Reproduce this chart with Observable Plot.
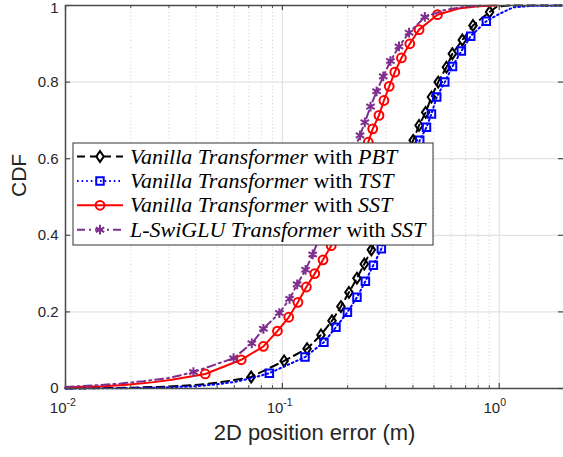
<!DOCTYPE html>
<html><head><meta charset="utf-8">
<script src="https://cdn.jsdelivr.net/npm/d3@7"></script>
<script src="https://cdn.jsdelivr.net/npm/@observablehq/plot@0.6"></script>
<style>body{margin:0;background:#fff} svg{display:block}</style>
</head><body><div id="chart"></div>
<script>
// ---------- data ----------
const xMajorTicks = [0.01, 0.1, 1];
const xMinorTicks = [0.02,0.03,0.04,0.05,0.06,0.07,0.08,0.09,0.2,0.3,0.4,0.5,0.6,0.7,0.8,0.9,2];
const yTicks = [0, 0.2, 0.4, 0.6, 0.8, 1];
const yGrid = [0.2, 0.4, 0.6, 0.8];

const seriesNames = ["Vanilla Transformer with PBT", "Vanilla Transformer with TST", "Vanilla Transformer with SST", "L-SwiGLU Transformer with SST"];

// black: Vanilla Transformer with PBT
const pbtLowX = [0.01, 0.02, 0.03, 0.04, 0.05, 0.06];
const pbtLowY = [0.0, 0.002, 0.005, 0.009, 0.015, 0.022];
const pbtMarkX = [0.0718, 0.1019, 0.130, 0.1507, 0.1694, 0.1862, 0.2028, 0.2208, 0.2387, 0.2573, 0.401, 0.427, 0.458, 0.487, 0.523, 0.571, 0.608, 0.676, 0.757, 0.903];
const pbtMarkY = [0.030, 0.072, 0.104, 0.140, 0.177, 0.214, 0.251, 0.288, 0.325, 0.362, 0.648, 0.687, 0.721, 0.761, 0.800, 0.839, 0.874, 0.910, 0.948, 0.983];
const pbtHighX = [0.97, 1.1, 2];
const pbtHighY = [0.996, 1.0, 1.0];

// blue: Vanilla Transformer with TST
const tstLowX = [0.01, 0.02, 0.03, 0.04, 0.05, 0.06, 0.07];
const tstLowY = [0.0, 0.001, 0.003, 0.006, 0.011, 0.017, 0.025];
const tstMarkX = [0.0871, 0.1272, 0.1555, 0.1767, 0.1995, 0.2208, 0.2415, 0.2628, 0.2860, 0.430, 0.462, 0.487, 0.515, 0.561, 0.609, 0.669, 0.739, 0.872];
const tstMarkY = [0.040, 0.082, 0.121, 0.160, 0.199, 0.238, 0.280, 0.322, 0.365, 0.648, 0.682, 0.717, 0.761, 0.800, 0.841, 0.881, 0.920, 0.959];
const tstHighX = [1.0, 1.16, 1.4, 2];
const tstHighY = [0.978, 0.995, 0.999, 1.0];

// red: Vanilla Transformer with SST
const sstLowX = [0.01, 0.015, 0.0192, 0.025, 0.0304];
const sstLowY = [0.003, 0.006, 0.010, 0.016, 0.022];
const sstMarkX = [0.0441, 0.0646, 0.0818, 0.0949, 0.107, 0.118, 0.129, 0.141, 0.154, 0.168, 0.249, 0.261, 0.279, 0.294, 0.311, 0.330, 0.354, 0.387, 0.427, 0.519];
const sstMarkY = [0.038, 0.075, 0.110, 0.150, 0.186, 0.225, 0.265, 0.300, 0.336, 0.373, 0.643, 0.678, 0.713, 0.752, 0.789, 0.826, 0.863, 0.900, 0.937, 0.976];
const sstHighX = [0.65, 0.8, 0.97];
const sstHighY = [0.992, 0.998, 1.0];

// purple: L-SwiGLU Transformer with SST
const lsgLowX = [0.01, 0.0135, 0.018, 0.0229, 0.0304];
const lsgLowY = [0.004, 0.008, 0.013, 0.019, 0.028];
const lsgMarkX = [0.0389, 0.0596, 0.0723, 0.0818, 0.0969, 0.108, 0.117, 0.128, 0.138, 0.228, 0.240, 0.255, 0.272, 0.292, 0.315, 0.345, 0.384, 0.454];
const lsgMarkY = [0.043, 0.079, 0.118, 0.156, 0.197, 0.234, 0.272, 0.310, 0.350, 0.661, 0.695, 0.736, 0.776, 0.815, 0.855, 0.893, 0.929, 0.970];
const lsgHighX = [0.56, 0.7, 0.85];
const lsgHighY = [0.988, 0.997, 1.0];

// ---------- build tables ----------
const pts = (xs, ys) => xs.map((x, i) => ({x, y: ys[i]}));
const lineOf = (lx, ly, mx, my, hx, hy) => [...pts(lx, ly), ...pts(mx, my), ...pts(hx, hy)];

const tallDiamond = {draw(ctx, size) { const r = Math.sqrt(size / Math.PI); const w = 0.8 * r, h = 1.15 * r;
  ctx.moveTo(0, -h); ctx.lineTo(w, 0); ctx.lineTo(0, h); ctx.lineTo(-w, 0); ctx.closePath(); }};
const squareSym = {draw(ctx, size) { const r = Math.sqrt(size / Math.PI); const s = 0.85 * r; ctx.rect(-s, -s, 2 * s, 2 * s); }};

const styles = [
  {color: "#000000", dash: "8,5", symbol: tallDiamond, r: 4.7, line: lineOf(pbtLowX, pbtLowY, pbtMarkX, pbtMarkY, pbtHighX, pbtHighY), marks: pts(pbtMarkX, pbtMarkY)},
  {color: "#0000ff", dash: "1.6,3", symbol: squareSym, r: 4.4, line: lineOf(tstLowX, tstLowY, tstMarkX, tstMarkY, tstHighX, tstHighY), marks: pts(tstMarkX, tstMarkY)},
  {color: "#ff0000", dash: null, symbol: "circle", r: 4.4, line: lineOf(sstLowX, sstLowY, sstMarkX, sstMarkY, sstHighX, sstHighY), marks: pts(sstMarkX, sstMarkY)},
  {color: "#7e2f8e", dash: "8,4,2,4", symbol: "asterisk", r: 4.6, line: lineOf(lsgLowX, lsgLowY, lsgMarkX, lsgMarkY, lsgHighX, lsgHighY), marks: pts(lsgMarkX, lsgMarkY)}
];

const W = 563, H = 457, mL = 65, mT = 5, mB = 69, mR = 0;
const fh = H - mT - mB, fw = W - mL - mR;
const axisColor = "#4a4a4a", textColor = "#262626";
const sans = "Liberation Sans, Arial, Helvetica, sans-serif";
const yFmt = d => (d === 0 || d === 1) ? String(d) : d.toFixed(1);

const marks = [
  Plot.ruleX(xMinorTicks, {x: d => d, stroke: "#cfcfcf", strokeDasharray: "1,2.5", strokeWidth: 1}),
  Plot.ruleX(xMajorTicks, {x: d => d, stroke: "#e3e3e3", strokeWidth: 1.2}),
  Plot.ruleY(yGrid, {y: d => d, stroke: "#e3e3e3", strokeWidth: 1.2}),
];
for (const s of styles) {
  marks.push(Plot.line(s.line, {x: "x", y: "y", stroke: s.color, strokeWidth: 2, strokeDasharray: s.dash, curve: "linear"}));
  marks.push(Plot.dot(s.marks, {x: "x", y: "y", stroke: s.color, strokeWidth: 2, fill: "none", symbol: s.symbol, r: s.r}));
}
marks.push(
  // ticks (inside)
  Plot.ruleX(xMajorTicks, {x: d => d, insetTop: fh - 5, stroke: axisColor, strokeWidth: 1.2}),
  Plot.ruleX(xMajorTicks, {x: d => d, insetBottom: fh - 5, stroke: axisColor, strokeWidth: 1.2}),
  Plot.ruleX(xMinorTicks, {x: d => d, insetTop: fh - 3, stroke: axisColor, strokeWidth: 1}),
  Plot.ruleX(xMinorTicks, {x: d => d, insetBottom: fh - 3, stroke: axisColor, strokeWidth: 1}),
  Plot.ruleY(yTicks, {y: d => d, insetRight: fw - 5, stroke: axisColor, strokeWidth: 1.2}),
  Plot.ruleY(yTicks, {y: d => d, insetLeft: fw - 5, stroke: axisColor, strokeWidth: 1.2}),
  // frame
  Plot.ruleX([0.01], {x: d => d, stroke: axisColor, strokeWidth: 1.5}),
  Plot.ruleY([0, 1], {y: d => d, stroke: axisColor, strokeWidth: 1.5}),
  // tick labels
  Plot.text(yTicks.filter(d => d < 1), {y: d => d, frameAnchor: "left", dx: -7, textAnchor: "end", text: yFmt, fontSize: 15, fill: textColor, fontFamily: sans}),
  Plot.text(yTicks.filter(d => d === 1), {y: d => d, frameAnchor: "left", dx: -7, dy: 3, textAnchor: "end", text: yFmt, fontSize: 15, fill: textColor, fontFamily: sans}),
  Plot.text(xMajorTicks, {x: d => d, frameAnchor: "bottom", dy: 24, dx: 1, textAnchor: "end", text: () => "10", fontSize: 15, fill: textColor, fontFamily: sans}),
  Plot.text(xMajorTicks, {x: d => d, frameAnchor: "bottom", dy: 17, dx: 1, textAnchor: "start", text: d => String(Math.round(Math.log10(d))), fontSize: 10.5, fill: textColor, fontFamily: sans}),
  // axis titles
  Plot.text(["2D position error (m)"], {frameAnchor: "bottom", dy: 51, text: d => d, fontSize: 22, fill: textColor, fontFamily: sans}),
  Plot.text(["CDF"], {frameAnchor: "left", dx: -46, rotate: -90, text: d => d, fontSize: 21, fill: textColor, fontFamily: sans})
);

const chart = Plot.plot({
  width: W, height: H, marginLeft: mL, marginRight: mR, marginTop: mT, marginBottom: mB,
  style: {background: "#fff", overflow: "visible"},
  x: {type: "log", domain: [0.01, 2], range: [mL, 564], axis: null},
  y: {domain: [0, 1], range: [H - mB, mT], axis: null},
  marks
});
document.getElementById("chart").appendChild(chart);

// ---------- legend ----------
const svg = d3.select(chart);
const lg = svg.append("g").attr("text-anchor", "start");
const bx = 73, by = 143, bw = 360, bh = 102;
lg.append("rect").attr("x", bx).attr("y", by).attr("width", bw).attr("height", bh)
  .attr("fill", "#fff").attr("stroke", "#333").attr("stroke-width", 1);
styles.forEach((s, i) => {
  const cy = 156.5 + i * 24.4;
  lg.append("line").attr("x1", 77).attr("x2", 123).attr("y1", cy).attr("y2", cy)
    .attr("stroke", s.color).attr("stroke-width", 2).attr("stroke-dasharray", s.dash);
  const sym = typeof s.symbol === "string" ? (s.symbol === "circle" ? d3.symbolCircle : d3.symbolAsterisk) : s.symbol;
  lg.append("path").attr("d", d3.symbol(sym, s.r * s.r * Math.PI)()).attr("transform", `translate(100,${cy})`)
    .attr("fill", "none").attr("stroke", s.color).attr("stroke-width", 2);
  const name = seriesNames[i];
  const m = name.match(/^(.*) with (.*)$/);
  const t = lg.append("text").attr("x", 130).attr("y", cy + 7).attr("text-anchor", "start")
    .attr("font-family", "Liberation Serif, Times New Roman, serif")
    .attr("font-size", 22).attr("fill", "#000");
  t.append("tspan").attr("font-style", "italic").text(m[1]);
  t.append("tspan").text(" with ");
  t.append("tspan").attr("font-style", "italic").text(m[2]);
});
</script></body></html>
